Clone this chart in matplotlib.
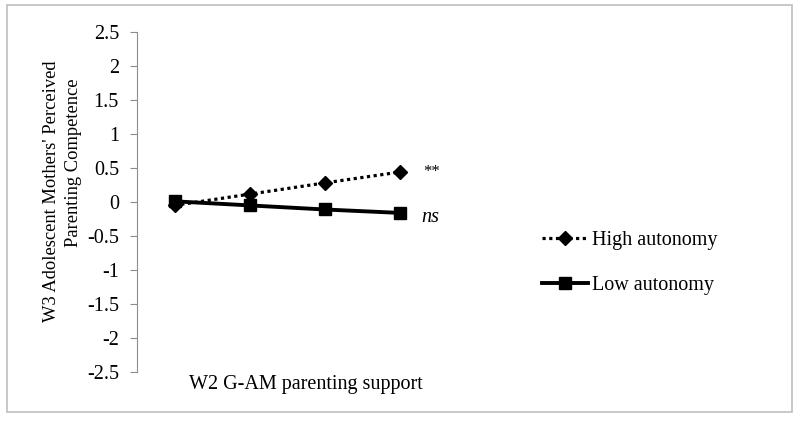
import numpy as np
import matplotlib
matplotlib.use("Agg")
import matplotlib.pyplot as plt
from matplotlib.patches import Rectangle

plt.rcParams['font.family'] = ['Liberation Serif', 'DejaVu Serif']

levels = [1, 2, 3, 4]
high_autonomy = [-0.05, 0.115, 0.28, 0.44]
low_autonomy = [0.01, -0.05, -0.11, -0.16]
series_labels = ["High autonomy", "Low autonomy"]
sig_labels = ["**", "ns"]
yticks = [2.5, 2, 1.5, 1, 0.5, 0, -0.5, -1, -1.5, -2, -2.5]
ylabel_lines = ["W3 Adolescent Mothers' Perceived", "Parenting Competence"]

W, H = 800, 426
fig = plt.figure(figsize=(8, 4.26), dpi=100)

# outer chart border
fig.patches.append(Rectangle((7 / W, 1 - 412 / H), 785 / W, 407 / H,
                             transform=fig.transFigure, fill=False,
                             edgecolor="#bfbfbf", linewidth=1.2))

ax = fig.add_axes([137 / W, 1 - 372 / H, 300 / W, 340 / H])

ax.plot(levels, high_autonomy, color="black", linestyle=(0, (1, 1.1)),
        linewidth=2.3, marker="D", markersize=7, label=series_labels[0])
ax.plot(levels, low_autonomy, color="black", linestyle="-",
        linewidth=2.8, marker="s", markersize=9, label=series_labels[1])

ax.annotate(sig_labels[0], xy=(levels[-1], high_autonomy[-1]), xytext=(17, 0),
            textcoords="offset points", va="center", ha="left", fontsize=12)
ax.annotate(sig_labels[1], xy=(levels[-1], low_autonomy[-1]), xytext=(16, -3),
            textcoords="offset points", va="center", ha="left", fontsize=14.5,
            style="italic")

ax.set_xlim(0.5, 4.5)
ax.set_ylim(-2.5, 2.5)
ax.set_yticks(yticks)
ax.set_yticklabels([f"{t:g}" for t in yticks], fontsize=14.5)
ax.set_xticks([])

for s in ["top", "right", "bottom"]:
    ax.spines[s].set_visible(False)
ax.spines["left"].set_color("#8c8c8c")
ax.tick_params(axis="y", length=5, color="#8c8c8c", pad=8)

ax.set_xlabel("W2 G-AM parenting support", fontsize=14.5)
ax.xaxis.set_label_coords(0.563, -0.008)
ax.xaxis.label.set_va("top")

# y title drawn as two rotated lines, like the Excel original
fig.text(52 / W, 1 - 191 / H, ylabel_lines[0], rotation=90, fontsize=13.3,
         ha="center", va="center")
fig.text(73 / W, 1 - 163 / H, ylabel_lines[1], rotation=90, fontsize=13.3,
         ha="center", va="center")

fig.legend(loc="center left", bbox_to_anchor=(524 / W, 1 - 263 / H),
           frameon=False, fontsize=14.5, handlelength=2.3, labelspacing=1.25,
           handletextpad=0.2)

fig.savefig("out.png", dpi=100)
